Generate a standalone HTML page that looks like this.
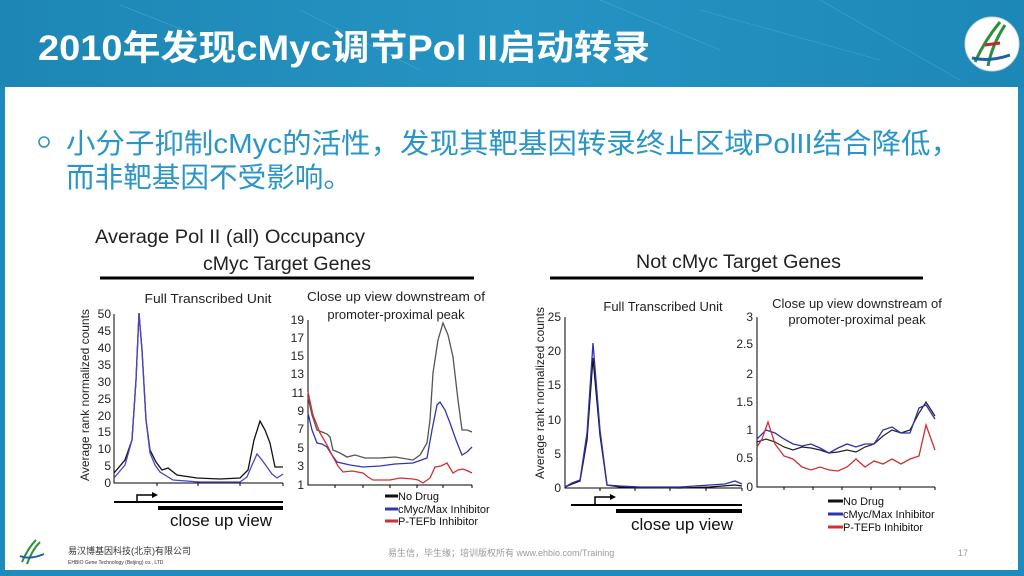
<!DOCTYPE html>
<html><head><meta charset="utf-8"><style>
html,body{margin:0;padding:0;width:1024px;height:576px;overflow:hidden;background:#fff}
svg{display:block}
text{font-family:"Liberation Sans","Noto Sans CJK SC",sans-serif}
</style></head><body>
<svg width="1024" height="576" viewBox="0 0 1024 576" xmlns="http://www.w3.org/2000/svg">
<defs>
<linearGradient id="hg" x1="0" y1="0" x2="1" y2="0">
<stop offset="0" stop-color="#1d86b4"/><stop offset="0.5" stop-color="#2594c3"/><stop offset="1" stop-color="#1c88b8"/>
</linearGradient>
</defs>
<rect x="0" y="0" width="1024" height="576" fill="#1d8bbb"/>
<rect x="0" y="0" width="1024" height="88" fill="url(#hg)"/>
<g stroke="#6fb8d8" stroke-width="0.6" opacity="0.5">
<line x1="120" y1="5" x2="260" y2="60"/><line x1="300" y1="10" x2="420" y2="70"/><line x1="600" y1="0" x2="720" y2="50"/><line x1="700" y1="10" x2="880" y2="60"/><line x1="820" y1="0" x2="960" y2="80"/>
</g>
<rect x="5" y="87" width="1013" height="483" fill="#fff"/>
<text x="38" y="60" font-size="35" font-weight="bold" fill="#fff" textLength="612" lengthAdjust="spacingAndGlyphs">2010年发现cMyc调节Pol II启动转录</text>
<circle cx="992" cy="44" r="27" fill="#fff" stroke="#c9dbe6"/>
<path d="M975 62 Q985 40 1000 22 M988 66 Q992 45 1005 25" stroke="#2c8f3a" stroke-width="3" fill="none"/>
<path d="M972 58 Q990 62 1010 55" stroke="#1d5fa8" stroke-width="3" fill="none"/>
<line x1="985" y1="45" x2="1000" y2="43" stroke="#c0282a" stroke-width="3"/>
<circle cx="44" cy="142" r="5" fill="none" stroke="#2d8fbf" stroke-width="1.5"/>
<text x="66" y="153" font-size="28" fill="#2a95c7" textLength="894" lengthAdjust="spacingAndGlyphs">小分子抑制cMyc的活性，发现其靶基因转录终止区域PolII结合降低，</text>
<text x="66" y="187" font-size="28" fill="#2a95c7" textLength="286" lengthAdjust="spacingAndGlyphs">而非靶基因不受影响。</text>

<g fill="#222">
<text x="95" y="243" font-size="19" textLength="270" lengthAdjust="spacingAndGlyphs">Average Pol II (all) Occupancy</text>
<text x="203" y="270" font-size="19" textLength="168" lengthAdjust="spacingAndGlyphs">cMyc Target Genes</text>
<text x="636" y="268" font-size="19" textLength="205" lengthAdjust="spacingAndGlyphs">Not cMyc Target Genes</text>
</g>
<line x1="100" y1="278" x2="474" y2="278" stroke="#000" stroke-width="3"/>
<line x1="550" y1="278" x2="923" y2="278" stroke="#000" stroke-width="3"/>

<!-- Panel 1 -->
<g font-size="12" fill="#222" text-anchor="end">
<text x="111" y="318">50</text><text x="111" y="335">45</text><text x="111" y="352">40</text><text x="111" y="369">35</text><text x="111" y="386">30</text><text x="111" y="403">25</text><text x="111" y="420">20</text><text x="111" y="436">15</text><text x="111" y="453">10</text><text x="111" y="470">5</text><text x="111" y="487">0</text>
</g>
<text x="208" y="303" font-size="13" text-anchor="middle" fill="#222" textLength="127" lengthAdjust="spacingAndGlyphs">Full Transcribed Unit</text>
<text transform="translate(89,395) rotate(-90)" font-size="12" text-anchor="middle" fill="#222">Average rank normalized counts</text>
<path d="M114 314V483H283M157 483v3M198 483v3M240 483v3M283 483v3" stroke="#000" fill="none"/>
<polyline fill="none" stroke="#111" stroke-width="1.3" points="114,473 125,460 132,440 136,380 139,313 142,350 146,420 150,450 156,462 162,470 168,468 177,475 197,478 220,479 240,478 248,470 254,440 260,421 265,430 270,443 275,467 283,467"/>
<polyline fill="none" stroke="#4a45c8" stroke-width="1.3" points="114,478 125,465 132,440 136,380 139,313 142,350 146,420 150,453 155,465 160,472 173,480 200,482 240,482 247,477 252,465 257,454 262,460 267,467 272,474 277,478 283,474"/>
<path d="M114 502H283" stroke="#000" stroke-width="2"/>
<path d="M137 502V495H154" stroke="#000" stroke-width="1.5" fill="none"/><path d="M152 492L158 495L152 498Z" fill="#000"/>
<path d="M158 508H283" stroke="#000" stroke-width="4"/>
<text x="170" y="526" font-size="17" fill="#111">close up view</text>

<!-- Panel 2 -->
<text x="396" y="301" font-size="13" text-anchor="middle" fill="#222" textLength="178" lengthAdjust="spacingAndGlyphs">Close up view downstream of</text>
<text x="396" y="319" font-size="13" text-anchor="middle" fill="#222">promoter-proximal peak</text>
<g font-size="12" fill="#222" text-anchor="end">
<text x="304" y="324">19</text><text x="304" y="342">17</text><text x="304" y="360">15</text><text x="304" y="378">13</text><text x="304" y="397">11</text><text x="304" y="415">9</text><text x="304" y="433">7</text><text x="304" y="452">5</text><text x="304" y="470">3</text><text x="304" y="489">1</text>
</g>
<path d="M308 320V485H472M335 485v3M363 485v3M390 485v3M417 485v3M443 485v3M472 485v3" stroke="#000" fill="none"/>
<polyline fill="none" stroke="#555" stroke-width="1.3" points="308,397 312,415 317,430 322,432 327,434 330,437 333,450 340,453 347,457 355,455 365,458 380,458 395,457 413,460 420,455 427,443 430,420 433,373 438,340 443,323 448,335 453,357 458,400 462,430 467,430 472,432"/>
<polyline fill="none" stroke="#3535b5" stroke-width="1.3" points="308,413 312,430 317,443 322,444 327,447 332,455 337,462 350,465 363,467 380,466 395,464 413,463 427,458 432,430 437,405 440,402 445,410 450,423 456,440 462,455 467,452 472,447"/>
<polyline fill="none" stroke="#d03030" stroke-width="1.3" points="308,392 313,415 320,433 327,445 333,457 338,466 343,472 352,471 363,473 368,477 373,480 390,480 400,478 413,479 418,480 423,483 430,478 435,467 441,466 447,463 453,473 458,470 463,469 468,471 472,473"/>
<g font-size="11" fill="#111">
<line x1="385" y1="496" x2="398" y2="496" stroke="#111" stroke-width="3"/><text x="398" y="500">No Drug</text>
<line x1="385" y1="509" x2="398" y2="509" stroke="#3535b5" stroke-width="3"/><text x="398" y="513">cMyc/Max Inhibitor</text>
<line x1="385" y1="521" x2="398" y2="521" stroke="#d03030" stroke-width="3"/><text x="398" y="525">P-TEFb Inhibitor</text>
</g>

<!-- Panel 3 -->
<text x="663" y="311" font-size="13" text-anchor="middle" fill="#222">Full Transcribed Unit</text>
<text transform="translate(544,393) rotate(-90)" font-size="12" text-anchor="middle" fill="#222">Average rank normalized counts</text>
<g font-size="12" fill="#222" text-anchor="end">
<text x="561" y="321">25</text><text x="561" y="355">20</text><text x="561" y="389">15</text><text x="561" y="424">10</text><text x="561" y="458">5</text><text x="561" y="492">0</text>
</g>
<path d="M565 317V488H742M600 488v3M635 488v3M670 488v3M706 488v3M742 488v3" stroke="#000" fill="none"/>
<polyline fill="none" stroke="#111" stroke-width="1.3" points="565,487 572,484 580,481 587,440 593,358 600,435 607,485 620,487 680,488 710,487 735,485 742,486"/>
<polyline fill="none" stroke="#3030b0" stroke-width="1.3" points="565,487 572,483 580,480 587,433 593,343 600,430 607,485 620,486 640,487 680,487 710,485 725,484 735,481 742,484"/>
<path d="M571 505H742" stroke="#000" stroke-width="2"/>
<path d="M595 505V497H612" stroke="#000" stroke-width="1.5" fill="none"/><path d="M610 494L616 497L610 500Z" fill="#000"/>
<path d="M616 511H742" stroke="#000" stroke-width="4"/>
<text x="682" y="530" font-size="17" text-anchor="middle" fill="#111">close up view</text>

<!-- Panel 4 -->
<text x="857" y="308" font-size="13" text-anchor="middle" fill="#222">Close up view downstream of</text>
<text x="857" y="324" font-size="13" text-anchor="middle" fill="#222">promoter-proximal peak</text>
<g font-size="12" fill="#222" text-anchor="end">
<text x="753" y="321">3</text><text x="753" y="348">2.5</text><text x="753" y="378">2</text><text x="753" y="406">1.5</text><text x="753" y="434">1</text><text x="753" y="462">0.5</text><text x="753" y="491">0</text>
</g>
<path d="M757 317V487H935M784 487v3M813 487v3M842 487v3M871 487v3M900 487v3M935 487v3" stroke="#000" fill="none"/>
<polyline fill="none" stroke="#222" stroke-width="1.2" points="757,442 766,439 775,442 784,447 793,450 802,447 811,448 820,450 829,453 838,452 847,450 856,452 865,447 874,444 883,436 892,430 901,433 910,430 919,413 926,402 935,416"/>
<polyline fill="none" stroke="#3030b0" stroke-width="1.3" points="757,439 766,430 775,433 784,439 793,444 802,446 811,444 820,448 829,453 838,448 847,444 856,447 865,444 874,444 883,430 892,427 901,433 910,433 919,408 926,405 935,419"/>
<polyline fill="none" stroke="#d03030" stroke-width="1.3" points="757,447 762,439 768,422 775,444 784,456 793,459 802,467 811,470 820,467 829,470 838,471 847,467 856,459 865,467 874,461 883,464 892,459 901,464 910,459 919,456 926,425 935,450"/>
<g font-size="11" fill="#111">
<line x1="828" y1="501" x2="843" y2="501" stroke="#111" stroke-width="3"/><text x="843" y="505">No Drug</text>
<line x1="828" y1="514" x2="843" y2="514" stroke="#3030b0" stroke-width="3"/><text x="843" y="518">cMyc/Max Inhibitor</text>
<line x1="828" y1="527" x2="843" y2="527" stroke="#d03030" stroke-width="3"/><text x="843" y="531">P-TEFb Inhibitor</text>
</g>

<!-- footer -->
<path d="M22 562 Q28 548 36 540 M27 564 Q32 550 40 542" stroke="#2c8f3a" stroke-width="2" fill="none"/>
<path d="M20 556 Q30 560 44 554" stroke="#1d5fa8" stroke-width="2" fill="none"/>
<text x="68" y="554" font-size="9" fill="#333">易汉博基因科技(北京)有限公司</text>
<text x="68" y="564" font-size="5" fill="#333">EHBIO Gene Technology (Beijing) co., LTD</text>
<text x="388" y="556" font-size="9" fill="#999">易生信，毕生缘；培训版权所有 www.ehbio.com/Training</text>
<text x="958" y="556" font-size="9" fill="#999">17</text>
</svg>
</body></html>
